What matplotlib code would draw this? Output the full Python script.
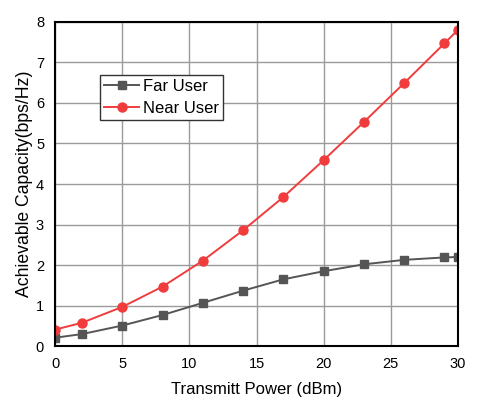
import numpy as np
import matplotlib.pyplot as plt

plt.rcParams['font.family'] = ['Liberation Sans', 'DejaVu Sans']

# transmit power (dBm)
power = [0, 2, 5, 8, 11, 14, 17, 20, 23, 26, 29, 30]

# achievable capacity (bps/Hz)
far_user = [0.21, 0.30, 0.51, 0.77, 1.07, 1.37, 1.65, 1.85, 2.02, 2.13, 2.19, 2.20]
near_user = [0.41, 0.58, 0.97, 1.47, 2.11, 2.86, 3.68, 4.59, 5.53, 6.49, 7.47, 7.80]

fig = plt.figure(figsize=(4.8, 4.04), dpi=100)
ax = fig.add_axes([0.115, 0.143, 0.839, 0.803])

ax.plot(power, far_user, color='#555555', marker='s', markersize=6, lw=1.4, label='Far User')
ax.plot(power, near_user, color='#f03c3c', marker='o', markersize=6.5, lw=1.4, label='Near User')

ax.set_xlim(0, 30)
ax.set_ylim(0, 8)
ax.set_xticks([0, 5, 10, 15, 20, 25, 30])
ax.set_yticks(range(0, 9))
ax.tick_params(length=0, labelsize=10.5, pad=8)
ax.grid(True, color='#9a9a9a', lw=1)
for s in ax.spines.values():
    s.set_linewidth(1.5)
    s.set_color('black')

ax.set_xlabel('Transmitt Power (dBm)', fontsize=12, labelpad=8)
ax.set_ylabel('Achievable Capacity(bps/Hz)', fontsize=12.7, labelpad=2)

leg = ax.legend(loc='upper left', bbox_to_anchor=(0.112, 0.836), borderaxespad=0,
                fontsize=12, fancybox=False, framealpha=1, edgecolor='#333333',
                borderpad=0.25, handlelength=2.1, handletextpad=0.2, labelspacing=0.4)
leg.get_frame().set_linewidth(1)

fig.savefig('out.png', dpi=100)
